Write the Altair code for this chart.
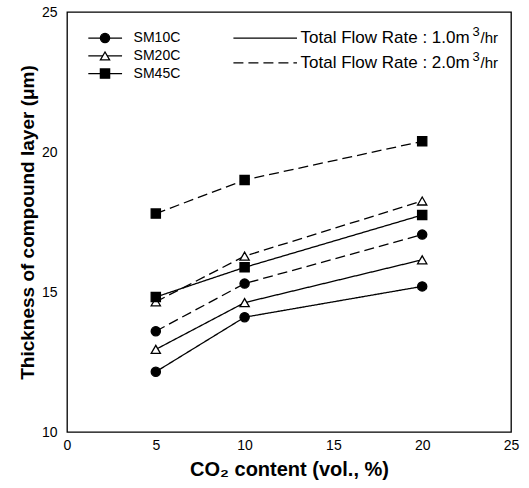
import altair as alt
import pandas as pd

x_vals = [5, 10, 20]
materials = ["SM10C", "SM20C", "SM45C"]
flows = ["1.0", "2.0"]
sm10c_1 = [12.15, 14.1, 15.2]
sm10c_2 = [13.6, 15.3, 17.05]
sm20c_1 = [12.95, 14.62, 16.15]
sm20c_2 = [14.65, 16.28, 18.25]
sm45c_1 = [14.82, 15.88, 17.75]
sm45c_2 = [17.8, 19.0, 20.38]

series = {
    ("SM10C", "1.0"): sm10c_1, ("SM10C", "2.0"): sm10c_2,
    ("SM20C", "1.0"): sm20c_1, ("SM20C", "2.0"): sm20c_2,
    ("SM45C", "1.0"): sm45c_1, ("SM45C", "2.0"): sm45c_2,
}
rows = []
for (m, f), ys in series.items():
    for xv, yv in zip(x_vals, ys):
        rows.append({"mat": m, "flow": f, "x": xv, "y": yv, "key": m + f})
df = pd.DataFrame(rows)

FONT = "Liberation Sans"
xs = alt.Scale(domain=[0, 25], nice=False, zero=False)
ys_ = alt.Scale(domain=[10, 25], nice=False, zero=False)
shape_scale = alt.Scale(domain=materials, range=["circle", "triangle-up", "square"])
fill_scale = alt.Scale(domain=materials, range=["black", "white", "black"])
dash_scale = alt.Scale(domain=flows, range=[[1, 0], [10, 5]])

X = alt.X("x:Q", scale=xs, axis=alt.Axis(values=[0, 5, 10, 15, 20, 25], title="CO₂ content (vol., %)",
          grid=False, ticks=False, domain=False, labelFont=FONT, labelFontSize=14, labelColor="black",
          labelPadding=6, titleFont=FONT, titleFontSize=20, titleFontWeight="bold", titleColor="black",
          titlePadding=7, labelFlush=False))
Y = alt.Y("y:Q", scale=ys_, axis=alt.Axis(values=[10, 15, 20, 25], title="Thickness of compound layer (μm)",
          grid=False, ticks=False, domain=False, labelFont=FONT, labelFontSize=14, labelColor="black",
          labelPadding=10, titleFont=FONT, titleFontSize=19, titleFontWeight="bold", titleColor="black",
          titlePadding=4, labelFlush=False))

lines = alt.Chart(df).mark_line(color="black", strokeWidth=1.3).encode(
    x=X, y=Y, detail="key:N",
    strokeDash=alt.StrokeDash("flow:N", scale=dash_scale, legend=None))
points = alt.Chart(df).mark_point(color="black", strokeWidth=1.3, opacity=1, filled=False).encode(
    x=alt.X("x:Q", scale=xs), y=alt.Y("y:Q", scale=ys_),
    shape=alt.Shape("mat:N", scale=shape_scale, legend=None),
    fill=alt.Fill("mat:N", scale=fill_scale, legend=None),
    size=alt.value(85))

# legend (data coordinates)
leg_y = [24.07, 23.43, 22.8]
leg = pd.DataFrame({"mat": materials, "y": leg_y, "x1": [1.2] * 3, "x2": [3.1] * 3, "xm": [2.14] * 3, "xt": [3.75] * 3})
leg_lines = alt.Chart(leg).mark_rule(color="black", strokeWidth=1.3).encode(
    x=alt.X("x1:Q", scale=xs), x2="x2:Q", y=alt.Y("y:Q", scale=ys_))
leg_pts = alt.Chart(leg).mark_point(color="black", strokeWidth=1.3, opacity=1).encode(
    x=alt.X("xm:Q", scale=xs), y=alt.Y("y:Q", scale=ys_),
    shape=alt.Shape("mat:N", scale=shape_scale, legend=None),
    fill=alt.Fill("mat:N", scale=fill_scale, legend=None), size=alt.value(85))
leg_txt = alt.Chart(leg).mark_text(align="left", baseline="middle", font=FONT, fontSize=14, color="black").encode(
    x=alt.X("xt:Q", scale=xs), y=alt.Y("y:Q", scale=ys_), text="mat:N")

flow_main = ["Total Flow Rate : 1.0m", "Total Flow Rate : 2.0m"]
flow_sup = ["3", "3"]
flow_tail = ["/hr", "/hr"]
leg2 = pd.DataFrame({"flow": flows, "y": [24.07, 23.18], "x1": [9.37] * 2, "x2": [12.95] * 2, "xt": [13.15] * 2,
                     "main": flow_main, "sup": flow_sup, "tail": flow_tail})
leg2_lines = alt.Chart(leg2).mark_rule(color="black", strokeWidth=1.3).encode(
    x=alt.X("x1:Q", scale=xs), x2="x2:Q", y=alt.Y("y:Q", scale=ys_),
    strokeDash=alt.StrokeDash("flow:N", scale=dash_scale, legend=None))
leg2_txt = alt.Chart(leg2).mark_text(align="left", baseline="middle", font=FONT, fontSize=17, color="black").encode(
    x=alt.X("xt:Q", scale=xs), y=alt.Y("y:Q", scale=ys_), text="main:N")
leg2_sup = alt.Chart(leg2).mark_text(align="left", baseline="middle", font=FONT, fontSize=13, color="black",
                                     dx=172, dy=-6).encode(
    x=alt.X("xt:Q", scale=xs), y=alt.Y("y:Q", scale=ys_), text="sup:N")
leg2_tail = alt.Chart(leg2).mark_text(align="left", baseline="middle", font=FONT, fontSize=15, color="black",
                                      dx=180).encode(
    x=alt.X("xt:Q", scale=xs), y=alt.Y("y:Q", scale=ys_), text="tail:N")

chart = alt.layer(lines, points, leg_lines, leg_pts, leg_txt, leg2_lines, leg2_txt, leg2_sup, leg2_tail).properties(
    width=444, height=420,
    autosize=alt.AutoSizeParams(type="none"),
    padding={"left": 67, "top": 12, "right": 18, "bottom": 56},
    background="white",
).configure_view(stroke="black", strokeWidth=1.3)

chart.save("out.html", embed_options={"renderer": "svg", "actions": False})
